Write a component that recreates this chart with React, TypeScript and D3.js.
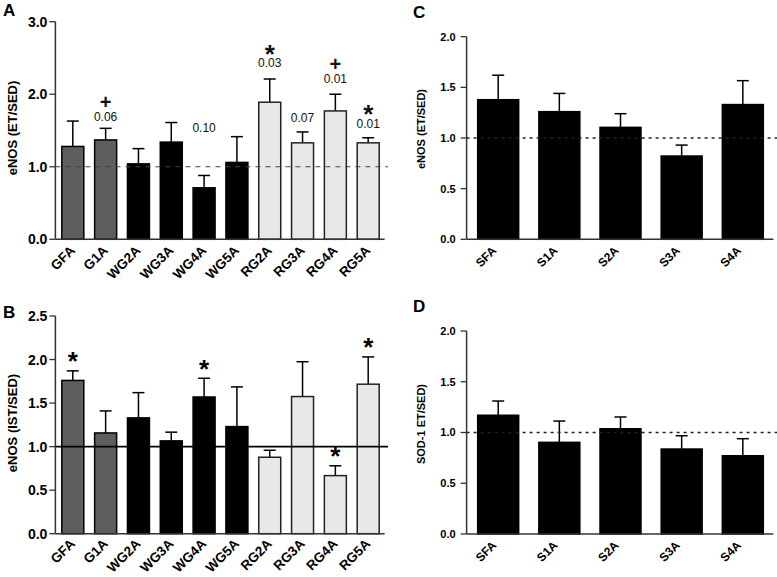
import React from "react";
import * as d3 from "d3";

// ---------- data ----------
const catsAB = ["GFA", "G1A", "WG2A", "WG3A", "WG4A", "WG5A", "RG2A", "RG3A", "RG4A", "RG5A"];
const groupAB = ["G", "G", "WG", "WG", "WG", "WG", "RG", "RG", "RG", "RG"];

const meanA = [1.28, 1.37, 1.04, 1.34, 0.71, 1.06, 1.89, 1.33, 1.77, 1.33];
const semA = [0.35, 0.16, 0.21, 0.27, 0.17, 0.355, 0.32, 0.15, 0.23, 0.07];
const pTextA = ["", "0.06", "", "", "0.10", "", "0.03", "0.07", "0.01", "0.01"];
const symA = ["", "+", "", "", "", "", "*", "", "+", "*"];
const pLevelA = [0, 1.63, 0, 0, 1.48, 0, 2.37, 1.615, 2.15, 1.535];

const meanB = [1.76, 1.157, 1.33, 1.066, 1.57, 1.23, 0.878, 1.575, 0.667, 1.717];
const semB = [0.11, 0.253, 0.29, 0.1, 0.215, 0.456, 0.08, 0.4, 0.113, 0.313];
const starB = [true, false, false, false, true, false, false, false, true, true];

const catsCD = ["SFA", "S1A", "S2A", "S3A", "S4A"];
const meanC = [1.378, 1.26, 1.105, 0.822, 1.33];
const semC = [0.242, 0.18, 0.135, 0.108, 0.236];
const meanD = [1.17, 0.903, 1.037, 0.837, 0.771];
const semD = [0.14, 0.21, 0.116, 0.131, 0.168];

const ticksA = [0, 1, 2, 3];
const ticksB = [0, 0.5, 1, 1.5, 2, 2.5];
const ticksCD = [0, 0.5, 1, 1.5, 2];

const FONT = "'Liberation Sans', Arial, Helvetica, sans-serif";
const fillFor: Record<string, string> = { G: "#5e5e5e", WG: "#000000", RG: "#e8e8e8" };
const fmt = d3.format(".1f");

type PanelProps = {
  cats: string[];
  groups: string[];
  mean: number[];
  sem: number[];
  xRange: [number, number];
  yDomain: [number, number];
  yRange: [number, number];
  ticks: number[];
  tickFont: number;
  xFont: number;
  yLabel: string;
  yLabelFont: number;
  yLabelPos: [number, number];
  letter: string;
  letterPos: [number, number];
  refLine: "dashed" | "solid" | "dotted";
  refEnd: number;
  tickLabelGap: number;
  xLabelDx: number;
  xLabelDy: number;
  annot?: (x: d3.ScaleBand<string>, y: d3.ScaleLinear<number, number>) => React.ReactNode;
};

function Panel(p: PanelProps) {
  const x = d3.scaleBand<string>().domain(p.cats).range(p.xRange).paddingInner(0.33).paddingOuter(0.165);
  const y = d3.scaleLinear().domain(p.yDomain).range(p.yRange);
  const axisX = p.xRange[0] - 1;
  const y0 = y(0);
  const bw = x.bandwidth();
  const refStyle =
    p.refLine === "dashed"
      ? { stroke: "#444", strokeWidth: 1.2, strokeDasharray: "5,5" }
      : p.refLine === "dotted"
      ? { stroke: "#222", strokeWidth: 1.5, strokeDasharray: "3,4" }
      : { stroke: "#000", strokeWidth: 1.6 };
  return (
    <g>
      <text x={p.letterPos[0]} y={p.letterPos[1]} fontFamily={FONT} fontWeight="bold" fontSize={17}>
        {p.letter}
      </text>
      {p.cats.map((c, i) => {
        const cx = (x(c) as number) + bw / 2;
        const top = y(p.mean[i]);
        const cap = y(p.mean[i] + p.sem[i]);
        return (
          <g key={c}>
            <line x1={cx} x2={cx} y1={top} y2={cap} stroke="#000" strokeWidth={1.5} />
            <line x1={cx - 6} x2={cx + 6} y1={cap} y2={cap} stroke="#000" strokeWidth={1.5} />
            <rect
              x={x(c)}
              y={top}
              width={bw}
              height={y0 - top}
              fill={fillFor[p.groups[i]]}
              stroke={p.groups[i] === "RG" ? "#222" : "#000"}
              strokeWidth={1.5}
            />
          </g>
        );
      })}
      <line x1={axisX} x2={p.refEnd} y1={y(1)} y2={y(1)} {...refStyle} />
      <line x1={axisX} x2={axisX} y1={y0} y2={y(p.yDomain[1])} stroke="#333" strokeWidth={1.5} />
      <line x1={axisX} x2={p.xRange[1]} y1={y0} y2={y0} stroke="#333" strokeWidth={1.5} />
      {p.ticks.map((t) => (
        <g key={t}>
          <line x1={axisX - 6} x2={axisX} y1={y(t)} y2={y(t)} stroke="#333" strokeWidth={1.3} />
          <text
            x={axisX - p.tickLabelGap}
            y={y(t)}
            dy="0.36em"
            textAnchor="end"
            fontFamily={FONT}
            fontWeight="bold"
            fontSize={p.tickFont}
          >
            {fmt(t)}
          </text>
        </g>
      ))}
      {p.cats.map((c) => {
        const cx = (x(c) as number) + bw / 2;
        return (
          <text
            key={"xl" + c}
            transform={`translate(${cx + p.xLabelDx},${y0 + p.xLabelDy}) rotate(-45)`}
            textAnchor="end"
            fontFamily={FONT}
            fontWeight="bold"
            fontSize={p.xFont}
          >
            {c}
          </text>
        );
      })}
      <text
        transform={`translate(${p.yLabelPos[0]},${p.yLabelPos[1]}) rotate(-90)`}
        textAnchor="middle"
        fontFamily={FONT}
        fontWeight="bold"
        fontSize={p.yLabelFont}
      >
        {p.yLabel}
      </text>
      {p.annot ? p.annot(x, y) : null}
    </g>
  );
}

export default function App() {
  const annotA = (x: d3.ScaleBand<string>, y: d3.ScaleLinear<number, number>) =>
    catsAB.map((c, i) => {
      if (!pTextA[i]) return null;
      const cx = (x(c) as number) + x.bandwidth() / 2;
      const base = y(pLevelA[i]);
      const sym = symA[i];
      const symY = sym === "*" ? base - 4.5 : base - 12;
      return (
        <text key={"an" + c} x={cx} y={sym ? symY : base} textAnchor="middle" fontFamily={FONT} fill="#111">
          {sym ? (
            <tspan fontWeight="bold" fontSize={sym === "*" ? 26 : 20}>
              {sym}
            </tspan>
          ) : null}
          <tspan x={cx} y={base} fontSize={12} fontWeight="normal">
            {pTextA[i]}
          </tspan>
        </text>
      );
    });
  const annotB = (x: d3.ScaleBand<string>, y: d3.ScaleLinear<number, number>) =>
    catsAB.map((c, i) => {
      if (!starB[i]) return null;
      const cx = (x(c) as number) + x.bandwidth() / 2;
      const cap = y(meanB[i] + semB[i]);
      return (
        <text key={"st" + c} x={cx} y={cap - 0.5} textAnchor="middle" fontFamily={FONT} fontWeight="bold" fontSize={26}>
          *
        </text>
      );
    });

  return (
    <svg
      width={777}
      height={577}
      viewBox="0 0 777 577"
      style={{ position: "absolute", left: 0, top: 0, background: "#fff" }}
    >
      <rect width={777} height={577} fill="#fff" />
      <Panel
        cats={catsAB}
        groups={groupAB}
        mean={meanA}
        sem={semA}
        xRange={[56.4, 384.6]}
        yDomain={[0, 3]}
        yRange={[239.3, 21.7]}
        ticks={ticksA}
        tickFont={14}
        xFont={13.5}
        yLabel="eNOS (ET/SED)"
        yLabelFont={13}
        yLabelPos={[17, 128]}
        letter="A"
        letterPos={[3, 16]}
        refLine="dashed"
        refEnd={388}
        tickLabelGap={8}
        xLabelDx={3}
        xLabelDy={12}
        annot={annotA}
      />
      <Panel
        cats={catsAB}
        groups={groupAB}
        mean={meanB}
        sem={semB}
        xRange={[56.4, 384.6]}
        yDomain={[0, 2.5]}
        yRange={[533.7, 316]}
        ticks={ticksB}
        tickFont={14}
        xFont={13.5}
        yLabel="eNOS (IST/SED)"
        yLabelFont={13}
        yLabelPos={[17, 423]}
        letter="B"
        letterPos={[3, 318]}
        refLine="solid"
        refEnd={388}
        tickLabelGap={8}
        xLabelDx={3}
        xLabelDy={11}
        annot={annotB}
      />
      <Panel
        cats={catsCD}
        groups={catsCD.map(() => "WG")}
        mean={meanC}
        sem={semC}
        xRange={[467.6, 773.4]}
        yDomain={[0, 2]}
        yRange={[239.3, 36.7]}
        ticks={ticksCD}
        tickFont={11}
        xFont={12}
        yLabel="eNOS (ET/SED)"
        yLabelFont={11}
        yLabelPos={[425, 129]}
        letter="C"
        letterPos={[413, 18]}
        refLine="dotted"
        refEnd={777}
        tickLabelGap={11}
        xLabelDx={-1}
        xLabelDy={12}
      />
      <Panel
        cats={catsCD}
        groups={catsCD.map(() => "WG")}
        mean={meanD}
        sem={semD}
        xRange={[467.6, 773.4]}
        yDomain={[0, 2]}
        yRange={[534, 331]}
        ticks={ticksCD}
        tickFont={11}
        xFont={12}
        yLabel="SOD-1 ET/SED)"
        yLabelFont={11}
        yLabelPos={[425, 424]}
        letter="D"
        letterPos={[413, 312]}
        refLine="dotted"
        refEnd={777}
        tickLabelGap={11}
        xLabelDx={-1}
        xLabelDy={12}
      />
    </svg>
  );
}
